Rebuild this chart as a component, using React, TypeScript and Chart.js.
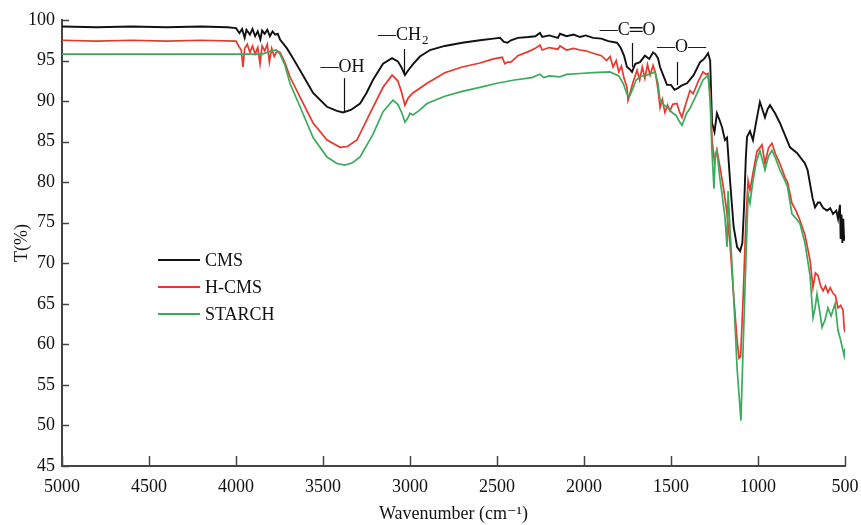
import React, { useEffect, useRef } from "react";
import { Chart, registerables } from "chart.js";

Chart.register(...registerables);

// ---- data ----
const cmsWave = [5000, 4800, 4600, 4400, 4200, 4050, 4000, 3980, 3965, 3950, 3940, 3920, 3905, 3890, 3875, 3860, 3850, 3835, 3820, 3805, 3790, 3775, 3760, 3747, 3707, 3670, 3632, 3557, 3477, 3420, 3385, 3340, 3287, 3250, 3213, 3155, 3103, 3070, 3050, 3029, 3010, 2985, 2943, 2885, 2800, 2700, 2598, 2520, 2483, 2460, 2440, 2420, 2380, 2320, 2280, 2253, 2240, 2200, 2150, 2138, 2100, 2060, 2023, 1990, 1948, 1900, 1860, 1810, 1790, 1770, 1753, 1740, 1724, 1705, 1678, 1650, 1625, 1603, 1590, 1575, 1563, 1545, 1523, 1500, 1480, 1460, 1440, 1408, 1370, 1333, 1310, 1287, 1275, 1264, 1250, 1236, 1220, 1207, 1190, 1178, 1160, 1140, 1120, 1103, 1090, 1080, 1070, 1063, 1046, 1029, 1010, 989, 975, 960, 945, 931, 902, 874, 845, 816, 776, 730, 715, 701, 686, 672, 655, 644, 625, 603, 585, 569, 550, 540, 529, 525, 520, 515, 510, 505, 500];
const cmsT = [99.2, 99.1, 99.2, 99.1, 99.2, 99.1, 99.0, 98.4, 98.9, 97.8, 98.8, 98.2, 98.9, 98.0, 98.6, 97.6, 98.7, 98.3, 98.8, 98.0, 98.6, 98.2, 98.3, 97.6, 96.5, 95.2, 93.8, 91.0, 89.3, 88.8, 88.6, 88.9, 89.7, 91.0, 92.6, 94.6, 95.3, 94.9, 94.2, 93.2, 93.8, 94.5, 95.5, 96.3, 96.8, 97.2, 97.5, 97.7, 97.8, 97.3, 97.2, 97.5, 97.8, 97.9, 98.0, 98.4, 97.9, 98.1, 97.8, 98.3, 98.0, 98.2, 97.9, 98.1, 97.8, 97.7, 97.4, 97.2, 96.6, 95.6, 94.2, 94.0, 93.6, 94.6, 94.8, 95.6, 95.2, 96.0, 95.8, 95.3, 94.2, 93.2, 92.0, 92.0, 91.4, 91.6, 91.9, 92.2, 93.2, 94.8, 95.2, 95.9, 95.0, 87.3, 86.2, 88.5, 87.6, 86.8, 85.2, 85.5, 80.0, 74.5, 72.0, 71.5, 72.5, 77.0, 83.0, 85.6, 86.3, 85.2, 87.5, 89.9, 89.0, 88.0, 89.0, 89.5, 88.5, 87.3, 85.8, 84.3, 83.6, 82.3, 81.5, 79.8, 78.0, 76.9, 77.5, 77.5, 76.8, 76.5, 76.8, 76.1, 76.5, 75.5, 77.2, 73.0, 76.0, 72.5, 75.5, 72.8, 73.5];

const hcmsWave = [5000, 4800, 4600, 4400, 4200, 4000, 3985, 3970, 3960, 3950, 3935, 3920, 3905, 3890, 3875, 3862, 3850, 3835, 3820, 3808, 3795, 3780, 3765, 3747, 3720, 3690, 3632, 3557, 3477, 3402, 3360, 3305, 3230, 3155, 3103, 3070, 3050, 3029, 3010, 2983, 2902, 2800, 2700, 2598, 2520, 2470, 2455, 2440, 2420, 2380, 2320, 2280, 2253, 2240, 2200, 2150, 2138, 2100, 2060, 2023, 1990, 1948, 1900, 1870, 1850, 1833, 1815, 1800, 1785, 1770, 1753, 1747, 1735, 1720, 1695, 1680, 1665, 1650, 1635, 1620, 1603, 1590, 1575, 1563, 1550, 1535, 1520, 1506, 1490, 1466, 1450, 1437, 1420, 1391, 1373, 1340, 1316, 1300, 1287, 1275, 1264, 1250, 1236, 1218, 1200, 1180, 1161, 1140, 1120, 1109, 1100, 1085, 1070, 1057, 1046, 1030, 1006, 977, 960, 940, 920, 900, 874, 845, 830, 805, 780, 759, 730, 701, 684, 670, 655, 640, 626, 612, 598, 585, 569, 555, 540, 525, 511, 505, 500];
const hcmsT = [97.5, 97.4, 97.5, 97.4, 97.5, 97.4, 96.8, 96.3, 94.2, 96.5, 97.0, 96.0, 96.8, 95.8, 96.6, 94.6, 96.8, 96.2, 97.0, 94.8, 96.5, 95.5, 96.2, 96.0, 94.8, 93.0, 90.5, 87.3, 85.2, 84.3, 84.4, 85.2, 88.5, 91.7, 93.2, 92.5, 91.2, 89.5, 90.4, 91.0, 92.2, 93.5, 94.2, 94.7, 95.2, 95.4, 94.6, 94.8, 94.8, 95.6, 96.1, 96.5, 96.9, 96.3, 96.6, 96.4, 96.8, 96.3, 96.5, 96.3, 96.2, 95.9, 95.6, 95.0, 95.5, 94.2, 95.0, 93.6, 94.3, 92.8, 91.7, 90.1, 91.0, 92.2, 93.8, 92.6, 94.2, 92.8, 94.5, 93.2, 94.4, 93.5, 91.5, 89.2, 90.2, 88.6, 89.5, 88.8, 89.6, 89.7, 88.6, 88.0, 89.3, 91.3, 90.9, 92.6, 93.6, 93.3, 93.4, 91.0, 85.2, 82.5, 84.0, 81.8, 79.5, 76.5, 72.4, 66.0, 60.5, 58.3, 58.5, 66.0, 75.0, 80.2, 79.0, 81.0, 83.8, 84.6, 82.3, 84.2, 84.8, 83.5, 82.3, 80.6, 80.0, 77.4, 76.4, 75.3, 73.5, 70.4, 67.0, 68.8, 68.5, 67.2, 66.6, 67.2, 66.4, 67.0, 66.3, 66.0, 64.5, 64.8, 64.2, 62.0, 61.5];

const starchWave = [5000, 4500, 4000, 3850, 3820, 3790, 3770, 3747, 3720, 3690, 3632, 3557, 3477, 3420, 3374, 3330, 3287, 3213, 3155, 3098, 3070, 3046, 3029, 3010, 3000, 2983, 2950, 2902, 2800, 2700, 2598, 2500, 2400, 2300, 2253, 2230, 2200, 2138, 2100, 2023, 1950, 1851, 1800, 1775, 1753, 1740, 1720, 1700, 1678, 1640, 1592, 1575, 1563, 1540, 1520, 1489, 1470, 1455, 1437, 1410, 1391, 1360, 1316, 1287, 1275, 1265, 1253, 1245, 1236, 1220, 1207, 1190, 1178, 1172, 1160, 1140, 1120, 1098, 1085, 1070, 1057, 1046, 1030, 1010, 989, 960, 940, 920, 900, 874, 845, 830, 805, 780, 759, 730, 701, 684, 672, 661, 645, 632, 615, 598, 580, 557, 540, 525, 511, 505, 500];
const starchT = [95.8, 95.8, 95.8, 95.8, 96.0, 96.2, 96.3, 95.8, 94.5, 92.2, 89.3, 85.5, 83.1, 82.3, 82.1, 82.4, 83.1, 85.9, 88.7, 90.1, 89.6, 88.5, 87.4, 88.0, 88.5, 88.3, 88.8, 89.7, 90.6, 91.2, 91.7, 92.2, 92.6, 92.9, 93.3, 92.9, 93.1, 93.0, 93.3, 93.4, 93.5, 93.6, 93.1, 92.2, 90.9, 90.5, 91.5, 92.6, 93.0, 93.2, 93.6, 92.2, 90.1, 89.5, 89.2, 88.5, 88.2, 87.6, 87.0, 88.5, 89.1, 90.5, 92.6, 93.2, 90.0, 84.0, 79.2, 83.5, 83.9, 80.6, 78.6, 75.7, 72.0, 78.9, 74.0, 66.0, 57.0, 50.6, 60.0, 70.0, 78.5, 77.4, 80.0, 82.5, 83.9, 81.5, 83.2, 83.9, 83.0, 81.5, 80.2, 79.4, 76.1, 75.5, 74.9, 72.5, 68.5, 63.3, 64.5, 66.2, 64.0, 62.1, 63.0, 64.5, 63.5, 65.0, 61.7, 60.5, 59.2, 58.6, 59.5];

const seriesNames = ["CMS", "H-CMS", "STARCH"];
const seriesColors = ["#111111", "#e8372c", "#3aab5c"];

const xTicks = [5000, 4500, 4000, 3500, 3000, 2500, 2000, 1500, 1000, 500];
const yTicks = [45, 50, 55, 60, 65, 70, 75, 80, 85, 90, 95, 100];

// annotations: label, subscript, text anchor wavenumber, text baseline T, line wavenumber, line top T, line bottom T
const annLabels = ["\u2014OH", "\u2014CH", "\u2014C\u2550O", "\u2014O\u2014"];
const annSubs = ["", "2", "", ""];
const annTextWave = [3388, 3184, 1910, 1580];
const annTextAlign = ["center", "left", "left", "left"];
const annTextT = [93.57, 97.53, 98.15, 96.04];
const annLineWave = [3379, 3034, 1724, 1466];
const annLineTopT = [92.83, 96.42, 97.16, 94.81];
const annLineBottomT = [88.63, 93.2, 94.19, 91.97];

const FONT = "'Liberation Serif', 'DejaVu Serif', serif";

function toPoints(w: number[], t: number[]) {
  return w.map((x, i) => ({ x, y: t[i] }));
}

const overlayPlugin = {
  id: "overlay",
  afterDatasetsDraw(chart: any) {
    const { ctx, chartArea, scales } = chart;
    const xs = scales.x;
    const ys = scales.y;
    ctx.save();
    // inward ticks
    ctx.strokeStyle = "#444";
    ctx.lineWidth = 1.5;
    xTicks.forEach((v) => {
      const px = Math.round(xs.getPixelForValue(v)) + 0.5;
      ctx.beginPath();
      ctx.moveTo(px, chartArea.bottom);
      ctx.lineTo(px, chartArea.bottom - 10);
      ctx.stroke();
    });
    yTicks.forEach((v) => {
      const py = Math.round(ys.getPixelForValue(v)) + 0.5;
      ctx.beginPath();
      ctx.moveTo(chartArea.left, py);
      ctx.lineTo(chartArea.left + 7, py);
      ctx.stroke();
    });

    // annotations
    ctx.fillStyle = "#111";
    ctx.strokeStyle = "#111";
    ctx.lineWidth = 1.2;
    ctx.textBaseline = "alphabetic";
    annLabels.forEach((lab, i) => {
      const tx = xs.getPixelForValue(annTextWave[i]);
      const ty = ys.getPixelForValue(annTextT[i]);
      ctx.textAlign = annTextAlign[i] as CanvasTextAlign;
      ctx.font = `18px ${FONT}`;
      ctx.fillText(lab, tx, ty);
      if (annSubs[i]) {
        const w = ctx.measureText(lab).width;
        ctx.textAlign = "left";
        ctx.font = `13px ${FONT}`;
        ctx.fillText(annSubs[i], tx + w + 1, ty + 4);
      }
      const lx = Math.round(xs.getPixelForValue(annLineWave[i])) + 0.5;
      ctx.beginPath();
      ctx.moveTo(lx, ys.getPixelForValue(annLineTopT[i]));
      ctx.lineTo(lx, ys.getPixelForValue(annLineBottomT[i]));
      ctx.stroke();
    });

    // legend
    const lx0 = chartArea.left + 96;
    const ly0 = chartArea.top + 240;
    seriesNames.forEach((name, i) => {
      const y = ly0 + i * 27;
      ctx.strokeStyle = seriesColors[i];
      ctx.lineWidth = 2;
      ctx.beginPath();
      ctx.moveTo(lx0, y);
      ctx.lineTo(lx0 + 42, y);
      ctx.stroke();
      ctx.fillStyle = "#111";
      ctx.font = `18px ${FONT}`;
      ctx.textAlign = "left";
      ctx.textBaseline = "middle";
      ctx.fillText(name, lx0 + 47, y + 1);
    });
    ctx.restore();
  },
};

export default function App() {
  const ref = useRef<HTMLCanvasElement | null>(null);
  useEffect(() => {
    document.body.style.margin = "0";
    if (!ref.current) return;
    const chart = new Chart(ref.current, {
      type: "line",
      data: {
        datasets: [
          { label: seriesNames[2], data: toPoints(starchWave, starchT), borderColor: seriesColors[2], order: 0, borderWidth: 1.7 },
          { label: seriesNames[1], data: toPoints(hcmsWave, hcmsT), borderColor: seriesColors[1], order: 1, borderWidth: 1.7 },
          { label: seriesNames[0], data: toPoints(cmsWave, cmsT), borderColor: seriesColors[0], order: 2, borderWidth: 1.9 },
        ].map((d) => ({ ...d, pointRadius: 0, tension: 0, fill: false })),
      },
      options: {
        animation: false,
        responsive: true,
        maintainAspectRatio: false,
        layout: { padding: { top: 20, right: 16, left: 0, bottom: 0 } },
        plugins: { legend: { display: false }, tooltip: { enabled: false } },
        scales: {
          x: {
            type: "linear",
            reverse: true,
            min: 500,
            max: 5000,
            afterFit: (s: any) => {
              s.height = 59;
              s.paddingRight = 0;
              s.paddingLeft = 0;
            },
            afterBuildTicks: (s: any) => { s.ticks = xTicks.map((v) => ({ value: v })); },
            grid: { display: false, drawTicks: false },
            border: { display: true, color: "#444", width: 2 },
            ticks: {
              padding: 10,
              color: "#111",
              font: { family: FONT, size: 18 },
              maxRotation: 0,
              autoSkip: false,
              callback: (v: any) => String(v),
            },
            title: {
              display: true,
              text: "Wavenumber (cm\u207B\u00B9)",
              color: "#111",
              font: { family: FONT, size: 18 },
              padding: { top: 0, bottom: 0 },
            },
          },
          y: {
            min: 45,
            max: 100,
            afterFit: (s: any) => { s.width = 62; },
            afterBuildTicks: (s: any) => { s.ticks = yTicks.map((v) => ({ value: v })); },
            grid: { display: false, drawTicks: false },
            border: { display: true, color: "#444", width: 2 },
            ticks: {
              padding: 7,
              color: "#111",
              font: { family: FONT, size: 18 },
              autoSkip: false,
              callback: (v: any) => String(v),
            },
            title: {
              display: true,
              text: "T(%)",
              color: "#111",
              font: { family: FONT, size: 18 },
              padding: { top: 11, bottom: 0 },
            },
          },
        },
      },
      plugins: [overlayPlugin],
    } as any);
    return () => chart.destroy();
  }, []);
  return (
    <div style={{ position: "fixed", left: 0, top: 0, width: 861, height: 525 }}>
      <canvas ref={ref} />
    </div>
  );
}
